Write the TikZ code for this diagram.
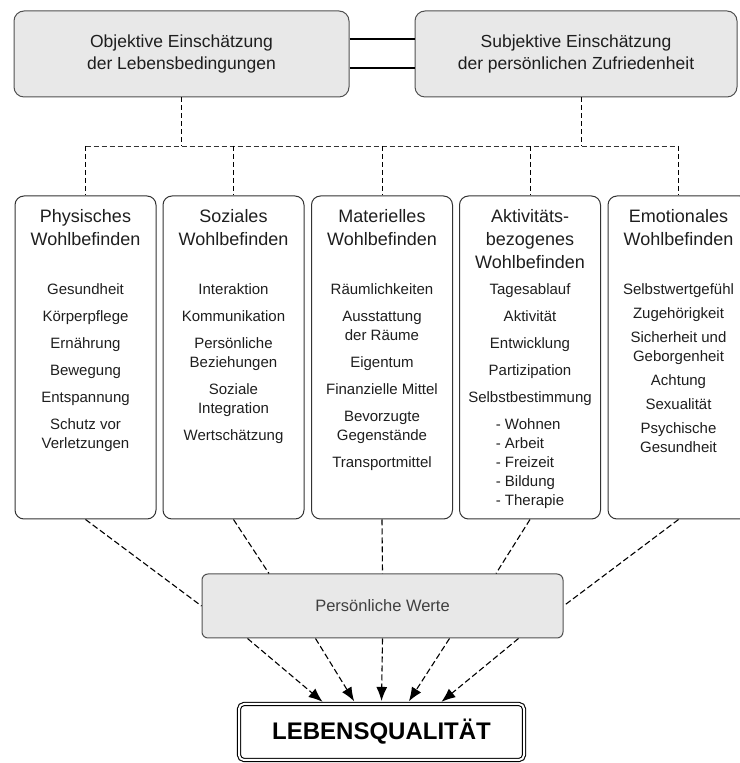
\documentclass[tikz,border=0pt]{standalone}
\usepackage{fontspec}
\setmainfont{Liberation Sans}
\usetikzlibrary{positioning,calc,arrows.meta}
\definecolor{boxgray}{RGB}{232,232,232}
\definecolor{linegray}{RGB}{80,80,80}
\definecolor{textgray}{RGB}{30,30,30}

\tikzset{
  topbox/.style={draw=linegray, line width=1pt, fill=boxgray, rounded corners=10pt,
    minimum height=86pt, align=center, text=textgray,
    font=\fontsize{17.5}{22}\selectfont},
  wbbox/.style={draw=black!80, line width=1pt, rounded corners=9pt,
    minimum width=141pt, minimum height=323pt},
  wbhead/.style={anchor=north, inner sep=0pt, align=center, text=textgray,
    font=\fontsize{18}{23}\selectfont},
  wbitems/.style={anchor=north, inner sep=0pt, align=center, text=textgray,
    font=\fontsize{15}{19}\selectfont},
  wertebox/.style={draw=linegray, line width=1pt, fill=boxgray, rounded corners=6pt,
    minimum width=361pt, minimum height=64pt, text=black!75,
    font=\fontsize{16.5}{20}\selectfont},
  lqbox/.style={draw=black, line width=1.1pt, double=white, double distance=2pt,
    rounded corners=5pt, minimum width=285pt, minimum height=56pt,
    font=\fontsize{24}{28}\selectfont\bfseries},
  pairline/.style={line width=1.3pt},
  link/.style={line width=1pt, dash pattern=on 5pt off 3pt},
  busline/.style={line width=0.8pt, black!80, dash pattern=on 5pt off 3pt},
  flow/.style={line width=1.1pt, dash pattern=on 6pt off 3pt},
  arrowflow/.style={flow, -{Latex[length=14pt,width=11pt]}, shorten >=2.5pt}
}

\begin{document}
\begin{tikzpicture}[x=1pt,y=1pt]
  \useasboundingbox (0,0) rectangle (739,763);

  % Einschaetzungen
  \node[topbox, minimum width=335pt] (objl) at (181.5,709)
    {Objektive Einschätzung\\der Lebensbedingungen};
  \node[topbox, minimum width=322pt] (subj) at (576,709)
    {Subjektive Einschätzung\\der persönlichen Zufriedenheit};

  \draw[pairline] ([yshift=15pt]objl.east) -- ([yshift=15pt]subj.west);
  \draw[pairline] ([yshift=-14pt]objl.east) -- ([yshift=-14pt]subj.west);

  % Bereiche des Wohlbefindens
  \node[wbbox] (phys) at (85.5,405.5) {};
  \node[wbbox] (soz) at (233.5,405.5) {};
  \node[wbbox] (mat) at (382,405.5) {};
  \node[wbbox] (akt) at (530,405.5) {};
  \node[wbbox] (emo) at (678.5,405.5) {};

  \node[wbhead] (physH) at ([yshift=-13.5pt]phys.north) {Physisches\\Wohlbefinden};
  \node[wbhead] (sozH) at ([yshift=-13.5pt]soz.north) {Soziales\\Wohlbefinden};
  \node[wbhead] (matH) at ([yshift=-13.5pt]mat.north) {Materielles\\Wohlbefinden};
  \node[wbhead] (aktH) at ([yshift=-13.5pt]akt.north) {Aktivitäts-\\bezogenes\\Wohlbefinden};
  \node[wbhead] (emoH) at ([yshift=-13.5pt]emo.north) {Emotionales\\Wohlbefinden};

  \node[wbitems] (physL) at ([yshift=-87.5pt]phys.north)
    {Gesundheit\\[8pt]Körperpflege\\[8pt]Ernährung\\[8pt]Bewegung\\[8pt]Entspannung\\[8pt]Schutz vor\\Verletzungen};
  \node[wbitems] (sozL) at ([yshift=-87.5pt]soz.north)
    {Interaktion\\[8pt]Kommunikation\\[8pt]Persönliche\\Beziehungen\\[8pt]Soziale\\Integration\\[8pt]Wertschätzung};
  \node[wbitems] (matL) at ([yshift=-87.5pt]mat.north)
    {Räumlichkeiten\\[8pt]Ausstattung\\der Räume\\[8pt]Eigentum\\[8pt]Finanzielle Mittel\\[8pt]Bevorzugte\\Gegenstände\\[8pt]Transportmittel};
  \node[wbitems] (aktL) at ([yshift=-87.5pt]akt.north)
    {Tagesablauf\\[8pt]Aktivität\\[8pt]Entwicklung\\[8pt]Partizipation\\[8pt]Selbstbestimmung\\[8pt]%
     {\begin{tabular}[t]{@{}l@{}}- Wohnen\\- Arbeit\\- Freizeit\\- Bildung\\- Therapie\end{tabular}}};
  \node[wbitems] (emoL) at ([yshift=-87.5pt]emo.north)
    {Selbstwertgefühl\\[5pt]Zugehörigkeit\\[5pt]Sicherheit und\\Geborgenheit\\[5pt]Achtung\\[5pt]Sexualität\\[5pt]Psychische\\Gesundheit};

  % Verbindungen oben
  \coordinate (bus) at (0,617);
  \draw[link] (objl.south) -- (objl.south |- bus);
  \draw[link] ([xshift=5pt]subj.south) -- ([xshift=5pt]subj.south |- bus);
  \draw[busline] (phys.north |- bus) -- (emo.north |- bus);
  \draw[link] (phys.north |- bus) -- (phys.north);
  \draw[link] (soz.north |- bus) -- (soz.north);
  \draw[link, line width=0.6pt] (mat.north |- bus) -- (mat.north);
  \draw[link] (akt.north |- bus) -- (akt.north);
  \draw[link] (emo.north |- bus) -- (emo.north);

  % Persoenliche Werte
  \node[wertebox] (werte) at (382.5,157) {Persönliche Werte};

  \draw[flow] (phys.south) -- (werte.west);
  \draw[flow] (soz.south) -- ([xshift=-113.5pt]werte.north);
  \draw[flow] (mat.south) -- (werte.north);
  \draw[flow] (akt.south) -- ([xshift=113.5pt]werte.north);
  \draw[flow] (emo.south) -- (werte.east);

  % Lebensqualitaet
  \node[lqbox] (lq) at (381.5,31) {LEBENSQUALITÄT};

  \draw[arrowflow] ([xshift=-135pt]werte.south) -- ([xshift=-57pt]lq.north);
  \draw[arrowflow] ([xshift=-67pt]werte.south) -- ([xshift=-26pt]lq.north);
  \draw[arrowflow] (werte.south) -- (lq.north);
  \draw[arrowflow] ([xshift=67pt]werte.south) -- ([xshift=26pt]lq.north);
  \draw[arrowflow] ([xshift=136pt]werte.south) -- ([xshift=58pt]lq.north);
\end{tikzpicture}
\end{document}
